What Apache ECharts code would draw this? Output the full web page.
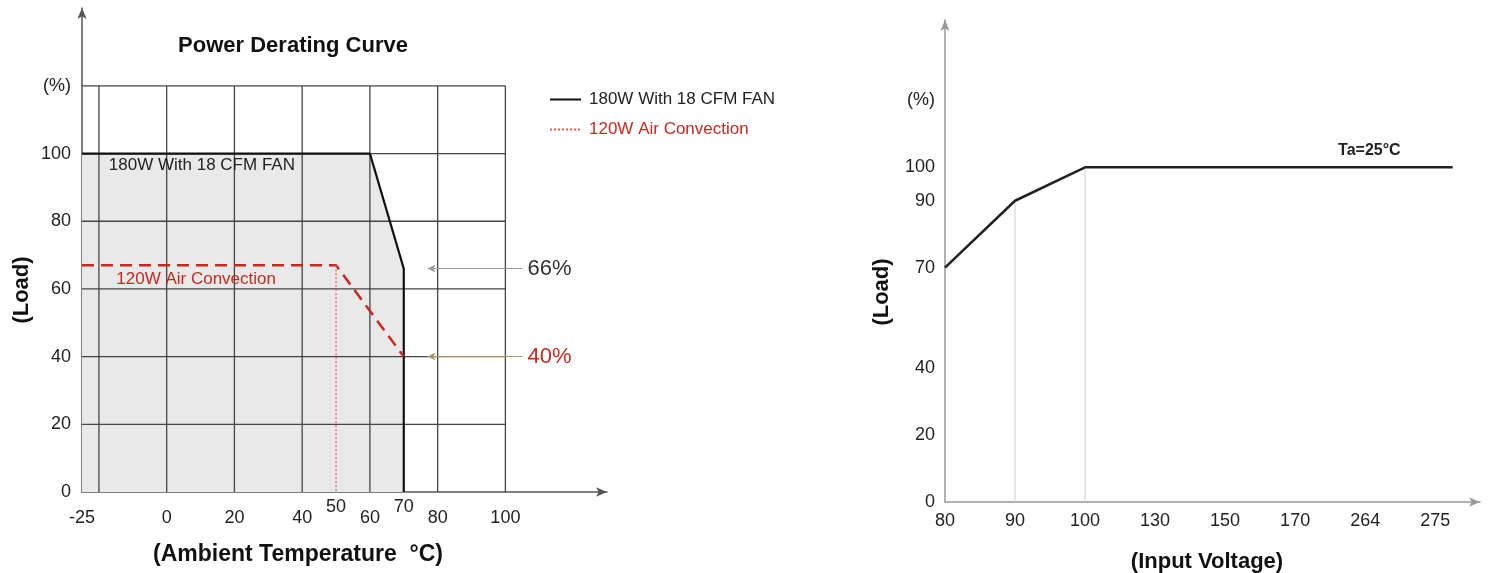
<!DOCTYPE html>
<html>
<head>
<meta charset="utf-8">
<script src="https://cdn.jsdelivr.net/npm/echarts@6/dist/echarts.min.js"></script>
<style>
html,body{margin:0;padding:0;background:#fff;}
#main{width:1493px;height:573px;}
</style>
</head>
<body>
<div id="main"></div>
<script>
// ---------- Left chart data (Power Derating Curve) ----------
const tempTickLabels = [-25, 0, 20, 40, 60, 80, 100];
const tempRaisedLabels = [50, 70];
const loadTickLabelsLeft = [0, 20, 40, 60, 80, 100];
const gridTemps = [-20, 0, 20, 40, 60, 80, 100];
const gridLoads = [20, 40, 60, 80, 100, 120];
const fanTemp = [-25, 60, 70, 70];
const fanLoad = [100, 100, 66, 0];
const convTemp = [-25, 50, 70];
const convLoad = [67, 67, 40];
const convDropTemp = [50, 50];
const convDropLoad = [67, 0];
const markerValues = [66, 40];

// ---------- Right chart data (Load vs Input Voltage) ----------
const voltLabels = ['80', '90', '100', '130', '150', '170', '264', '275'];
const inputIdx = [0, 1, 2, 7.25];
const inputLoad = [70, 90, 100, 100];
const loadTickLabelsRight = [0, 20, 40, 70, 90, 100];
const guideIdx = [1, 2];
const guideLoad = [90, 100];

const FONT = '"Liberation Sans", Arial, sans-serif';
const RED = '#c9281f';
const zip = (a, b) => a.map((v, i) => [v, b[i]]);

const chart = echarts.init(document.getElementById('main'), null, {renderer: 'canvas'});

const hidden = {color: 'transparent', opacity: 1};
const series = [];
// gray fill under the fan curve
series.push({
  type: 'line', xAxisIndex: 0, yAxisIndex: 0, data: zip(fanTemp, fanLoad),
  symbol: 'none', lineStyle: {width: 0}, areaStyle: {color: '#e9e9e9', opacity: 1}, z: 1, silent: true
});
// grid lines
gridTemps.forEach(t => series.push({
  type: 'line', xAxisIndex: 0, yAxisIndex: 0, data: [[t, 0], [t, gridLoads[gridLoads.length - 1]]],
  symbol: 'none', lineStyle: {color: '#454545', width: 1.3}, z: 2, silent: true
}));
gridLoads.forEach(l => series.push({
  type: 'line', xAxisIndex: 0, yAxisIndex: 0, data: [[tempTickLabels[0], l], [gridTemps[gridTemps.length - 1], l]],
  symbol: 'none', lineStyle: {color: '#454545', width: 1.3}, z: 2, silent: true
}));
// 180W fan curve
series.push({
  name: '180W With 18 CFM FAN', type: 'line', xAxisIndex: 0, yAxisIndex: 0, data: zip(fanTemp, fanLoad),
  symbol: 'none', lineStyle: {color: '#111', width: 2.2}, itemStyle: {color: '#111'}, z: 4, silent: true
});
// 120W convection (dashed)
series.push({
  name: 'conv', type: 'line', xAxisIndex: 0, yAxisIndex: 0, data: zip(convTemp, convLoad),
  symbol: 'none', lineStyle: {color: RED, width: 2.5, type: [12, 7]}, z: 5, silent: true
});
// 120W drop (dotted)
series.push({
  name: '120W Air Convection', type: 'line', xAxisIndex: 0, yAxisIndex: 0, data: zip(convDropTemp, convDropLoad),
  symbol: 'none', lineStyle: {color: '#e0604e', width: 1.2, type: [2, 2]}, itemStyle: {color: '#e0604e'}, z: 5, silent: true
});
// annotation arrows + labels
series.push({
  type: 'scatter', xAxisIndex: 0, yAxisIndex: 0, clip: false, silent: true,
  symbolSize: 1, itemStyle: hidden,
  data: [
    {value: [106.4, markerValues[0]], label: {formatter: markerValues[0] + '%', color: '#333'}},
    {value: [106.4, markerValues[1]], label: {formatter: markerValues[1] + '%', color: RED}}
  ],
  label: {show: true, position: 'right', distance: 0, fontSize: 22, fontFamily: FONT},
  markLine: {
    silent: true, symbol: ['none', 'arrow'], symbolSize: [6, 8], label: {show: false},
    data: [
      [{coord: [105, markerValues[0]], lineStyle: {color: '#9a9a9a', width: 1.2, type: 'solid'}}, {coord: [77, markerValues[0]]}],
      [{coord: [105, markerValues[1]], lineStyle: {color: '#a39a62', width: 1.2, type: 'solid'}}, {coord: [77, markerValues[1]]}]
    ]
  },
  z: 6
});
// in-plot text labels
series.push({
  type: 'scatter', xAxisIndex: 0, yAxisIndex: 0, clip: false, silent: true,
  symbolSize: 1, itemStyle: hidden,
  data: [
    {value: [10.4, 96.4], label: {formatter: '180W With 18 CFM FAN', color: '#222'}},
    {value: [8.7, 62.9], label: {formatter: '120W Air Convection', color: RED}}
  ],
  label: {show: true, position: 'inside', fontSize: 17, fontFamily: FONT},
  z: 6
});
// raised x labels 50 / 70
series.push({
  type: 'scatter', xAxisIndex: 0, yAxisIndex: 0, clip: false, silent: true,
  symbolSize: 1, itemStyle: hidden,
  data: tempRaisedLabels.map(t => ({value: [t, 0], label: {formatter: String(t)}})),
  label: {show: true, position: 'inside', offset: [0, 15], fontSize: 18, color: '#222', fontFamily: FONT},
  z: 6
});

// ---- right chart ----
guideIdx.forEach((x, i) => series.push({
  type: 'line', xAxisIndex: 1, yAxisIndex: 1, data: [[x, 0], [x, guideLoad[i]]],
  symbol: 'none', lineStyle: {color: '#cfcfcf', width: 1}, z: 2, silent: true
}));
series.push({
  type: 'line', xAxisIndex: 1, yAxisIndex: 1, data: zip(inputIdx, inputLoad),
  symbol: 'none', lineStyle: {color: '#222', width: 2.5}, z: 4, silent: true
});
series.push({
  type: 'scatter', xAxisIndex: 1, yAxisIndex: 1, clip: false, silent: true,
  symbolSize: 1, itemStyle: hidden,
  data: [{value: [6.06, 105], label: {formatter: 'Ta=25°C'}}],
  label: {show: true, position: 'inside', fontSize: 16, fontWeight: 'bold', color: '#222', fontFamily: FONT},
  z: 6
});

const option = {
  animation: false,
  backgroundColor: '#fff',
  textStyle: {fontFamily: FONT},
  legend: {
    orient: 'vertical', left: 549, top: 91, padding: 0, itemWidth: 31, itemHeight: 17, itemGap: 13,
    selectedMode: false,
    itemStyle: {opacity: 0},
    data: [
      {name: '180W With 18 CFM FAN', textStyle: {color: '#222'}},
      {name: '120W Air Convection', textStyle: {color: RED}}
    ],
    textStyle: {fontSize: 17, fontFamily: FONT, padding: [0, 0, 0, 3]}
  },
  grid: [
    {left: 82, top: 8, width: 525, height: 484, containLabel: false, outerBoundsMode: 'none'},
    {left: 945, top: 20, width: 535, height: 482, containLabel: false, outerBoundsMode: 'none'}
  ],
  xAxis: [
    {
      type: 'value', gridIndex: 0, min: -25, max: 130, interval: 5,
      axisLine: {show: true, onZero: false, symbol: ['none', 'arrow'], symbolSize: [7, 11], lineStyle: {color: '#555', width: 1.5}},
      axisTick: {show: false}, splitLine: {show: false},
      axisLabel: {
        margin: 17, fontSize: 18, color: '#222', fontFamily: FONT,
        showMinLabel: true, showMaxLabel: true,
        formatter: v => tempTickLabels.includes(Math.round(v)) && Math.abs(v - Math.round(v)) < 1e-6 ? String(Math.round(v)) : ''
      }
    },
    {
      type: 'value', gridIndex: 1, min: 0, max: 7.64, interval: 1,
      axisLine: {show: true, onZero: false, symbol: ['none', 'arrow'], symbolSize: [7, 11], lineStyle: {color: '#999', width: 1.5}},
      axisTick: {show: false}, splitLine: {show: false},
      axisLabel: {
        margin: 10, fontSize: 18, color: '#222', fontFamily: FONT,
        formatter: v => Math.abs(v - Math.round(v)) < 1e-6 && voltLabels[Math.round(v)] !== undefined ? voltLabels[Math.round(v)] : ''
      }
    }
  ],
  yAxis: [
    {
      type: 'value', gridIndex: 0, min: 0, max: 143, interval: 20,
      axisLine: {show: true, onZero: false, symbol: ['none', 'arrow'], symbolSize: [7, 11], lineStyle: {color: '#555', width: 1.5}},
      axisTick: {show: false}, splitLine: {show: false},
      axisLabel: {
        margin: 11, fontSize: 18, color: '#222', fontFamily: FONT,
        formatter: v => loadTickLabelsLeft.includes(v) ? String(v) : (v === 120 ? '(%)' : '')
      }
    },
    {
      type: 'value', gridIndex: 1, min: 0, max: 144, interval: 10,
      axisLine: {show: true, onZero: false, symbol: ['none', 'arrow'], symbolSize: [7, 11], lineStyle: {color: '#999', width: 1.5}},
      axisTick: {show: false}, splitLine: {show: false},
      axisLabel: {
        margin: 10, fontSize: 18, color: '#222', fontFamily: FONT,
        formatter: v => loadTickLabelsRight.includes(v) ? String(v) : (v === 120 ? '(%)' : '')
      }
    }
  ],
  graphic: [
    {type: 'text', x: 293, y: 46, style: {text: 'Power Derating Curve', font: 'bold 22px ' + FONT, fill: '#111', align: 'center', verticalAlign: 'middle'}},
    {type: 'text', x: 298, y: 555, style: {text: '(Ambient Temperature  °C)', font: 'bold 23px ' + FONT, fill: '#111', align: 'center', verticalAlign: 'middle'}},
    {type: 'text', x: 22, y: 290, rotation: Math.PI / 2, style: {text: '(Load)', font: 'bold 22px ' + FONT, fill: '#111', align: 'center', verticalAlign: 'middle'}},
    {type: 'text', x: 882, y: 292, rotation: Math.PI / 2, style: {text: '(Load)', font: 'bold 22px ' + FONT, fill: '#111', align: 'center', verticalAlign: 'middle'}},
    {type: 'text', x: 1207, y: 562, style: {text: '(Input Voltage)', font: 'bold 22px ' + FONT, fill: '#111', align: 'center', verticalAlign: 'middle'}}
  ],
  series: series
};
chart.setOption(option);
</script>
</body>
</html>
